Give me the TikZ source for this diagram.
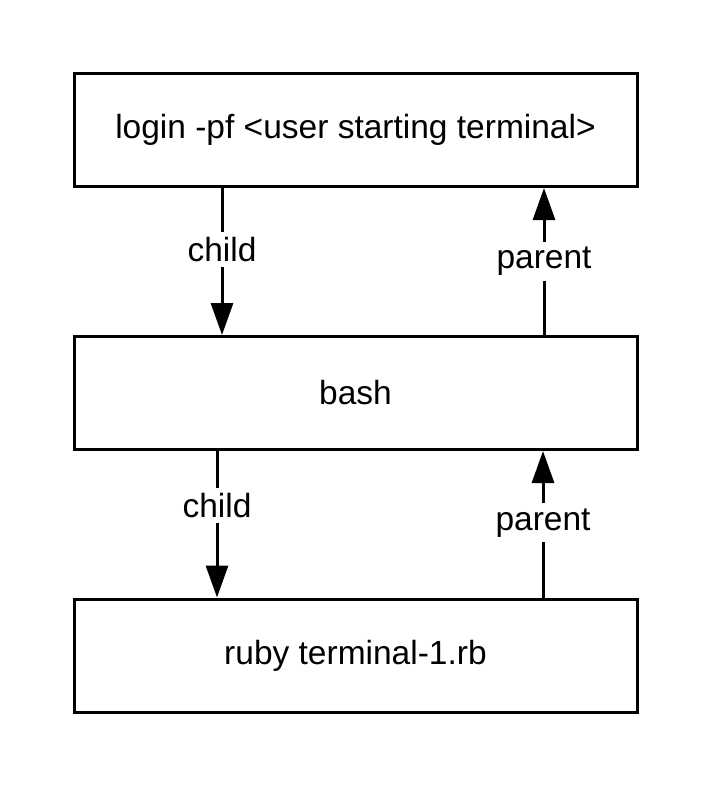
\documentclass[tikz,border=0pt]{standalone}
\usepackage{fontspec}
\setmainfont{Liberation Sans}
\usetikzlibrary{arrows.meta}
\begin{document}
\begin{tikzpicture}[x=1pt,y=-1pt,
  box/.style={draw,line width=3pt,minimum width=563pt,minimum height=113pt,inner sep=0pt,font=\fontsize{33.5}{40}\selectfont},
  arr/.style={line width=3pt,-{Triangle[length=32pt,width=22pt]}},
  lab/.style={fill=white,inner sep=5pt,font=\fontsize{33.5}{40}\selectfont}]
\useasboundingbox (0,0) rectangle (713,788);
\node[box] (top) at (355.5,130) {login -pf <user starting terminal>};
\node[box] (mid) at (355.5,393) {bash};
\node[box] (bot) at (355.5,655.5) {ruby terminal-1.rb};
\coordinate (c1) at (222,0);
\coordinate (p1) at (544,0);
\coordinate (c2) at (217,0);
\coordinate (p2) at (543,0);
\draw[arr] (top.south -| c1) -- node[lab,pos=0.42]{child} (mid.north -| c1);
\draw[arr] (mid.north -| p1) -- node[lab,pos=0.5]{parent} (top.south -| p1);
\draw[arr] (mid.south -| c2) -- node[lab,pos=0.37]{child} (bot.north -| c2);
\draw[arr] (bot.north -| p2) -- node[lab,pos=0.51]{parent} (mid.south -| p2);
\end{tikzpicture}
\end{document}
